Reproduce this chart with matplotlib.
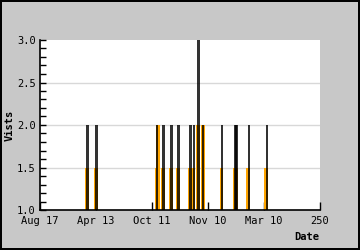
import matplotlib.pyplot as plt
import numpy as np

# day index of each spike, black = total visits, orange = unique visits
days = [42, 50, 104, 110, 117, 123, 134, 137, 141, 145, 162, 174, 175, 186, 202]
visits = [2, 2, 2, 2, 2, 2, 2, 2, 3, 2, 2, 2, 2, 2, 2]
uniq_days = [42, 50, 104, 105.5, 110, 117, 123, 134, 137, 141, 145.5, 162, 174, 175, 186, 202]
uniq = [1.5, 1.5, 1.5, 2, 1.5, 1.5, 1.5, 1.5, 1.5, 2, 2, 1.5, 1.5, 1.5, 1.5, 1.5]
xtick_pos = [0, 50, 100, 150, 200, 250]
xtick_lab = ['Aug 17', 'Apr 13', 'Oct 11', 'Nov 10', 'Mar 10', '250']

plt.rcParams['font.family'] = ['DejaVu Sans Mono']
fig = plt.figure(figsize=(3.6, 2.5), dpi=100, facecolor='#c8c8c8',
                 edgecolor='black', linewidth=1.5)
ax = fig.add_axes([40/360, 40/250, 280/360, 170/250])
ax.set_facecolor('white')

for y in [1.5, 2.0, 2.5]:
    ax.axhline(y, color='#d8d8d8', lw=1, zorder=0)

u = np.array(uniq)
ax.bar(uniq_days, u - 1, bottom=1, width=3.4, color='#ffa500', zorder=2,
       linewidth=0)
v = np.array(visits)
ax.bar(np.array(days) + 0.5, v - 1, bottom=1, width=2.3, color='black',
       alpha=0.8, zorder=3, linewidth=0)

ax.set_xlim(0, 250)
ax.set_ylim(1.0, 3.0)
ax.set_xticks(xtick_pos)
ax.set_xticklabels(xtick_lab, fontsize=7.5)
ax.set_yticks([1.0, 1.5, 2.0, 2.5, 3.0])
ax.set_yticklabels(['1.0', '1.5', '2.0', '2.5', '3.0'], fontsize=7.5)
ax.set_yticks(np.arange(1.0, 3.01, 0.1), minor=True)
ax.tick_params(axis='x', direction='in', length=6, width=1, pad=4)
ax.tick_params(axis='y', direction='in', length=4, width=1, pad=3)
ax.tick_params(axis='y', which='minor', direction='in', length=4, width=1)
for s in ['top', 'right']:
    ax.spines[s].set_visible(False)
ax.spines['left'].set_linewidth(1.2)
ax.spines['bottom'].set_linewidth(1.2)

fig.text(10/360, 1 - 125/250, 'Vists', fontsize=7.5, fontweight='bold',
         rotation=90, ha='center', va='center')
fig.text(319/360, 1 - 237/250, 'Date', fontsize=7.5, fontweight='bold',
         ha='right', va='center')

fig.savefig('out.png', facecolor=fig.get_facecolor(), edgecolor='black')
